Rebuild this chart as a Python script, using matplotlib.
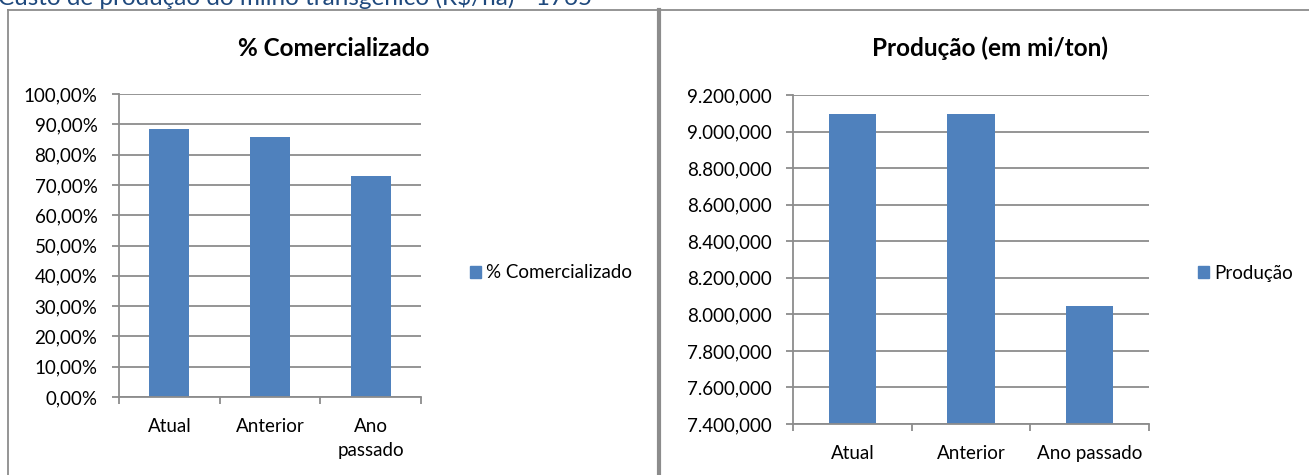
import matplotlib
matplotlib.use("Agg")
import matplotlib.pyplot as plt
from matplotlib.lines import Line2D
from matplotlib.patches import Patch
from matplotlib.ticker import FuncFormatter, FixedLocator

categories = ["Atual", "Anterior", "Ano passado"]
left_labels = ["Atual", "Anterior", "Ano\npassado"]
comercializado = [88.5, 85.7, 72.8]
producao = [9096000, 9096000, 8047000]

W, H = 1309, 475
BLUE = "#4F81BD"
GRID = "#8C8C8C"
FS = 13.5

plt.rcParams["font.family"] = ["Lato", "DejaVu Sans"]


def px_axes(fig, x0, x1, ytop, ybot):
    """Add an axes from pixel coordinates (origin top-left)."""
    return fig.add_axes([x0 / W, 1 - ybot / H, (x1 - x0) / W, (ybot - ytop) / H])


def excel_style(ax):
    for side in ["top", "right"]:
        ax.spines[side].set_visible(False)
    for side in ["left", "bottom"]:
        ax.spines[side].set_color(GRID)
        ax.spines[side].set_linewidth(1.3)
    ax.yaxis.grid(True, color=GRID, linewidth=1.3)
    ax.set_axisbelow(True)
    ax.tick_params(axis="y", length=5, width=1.3, color=GRID, pad=10.5, labelsize=FS)
    ax.tick_params(axis="x", which="major", length=0, pad=15, labelsize=FS)
    ax.xaxis.set_minor_locator(FixedLocator([-0.5, 0.5, 1.5, 2.5]))
    ax.tick_params(axis="x", which="minor", length=5, width=1.3, color=GRID)
    ax.set_xlim(-0.5, 2.5)


fig = plt.figure(figsize=(W / 100, H / 100), dpi=100)

# page heading (cut off at the top)
fig.text(-2 / W, 1 - 5 / H, "Custo de produção do milho transgênico (R$/ha) - 1765",
         color="#1F497D", fontsize=17.5, va="baseline", ha="left")

# chart borders
tf = fig.transFigure
fig.add_artist(Line2D([8 / W, 657 / W], [1 - 10 / H, 1 - 10 / H], color=GRID, lw=1.3, transform=tf))
fig.add_artist(Line2D([661 / W, 1], [1 - 10 / H, 1 - 10 / H], color=GRID, lw=1.3, transform=tf))
fig.add_artist(Line2D([8 / W, 8 / W], [0, 1 - 10 / H], color=GRID, lw=1.3, transform=tf))
fig.add_artist(Line2D([659 / W, 659 / W], [0, 1 - 10 / H], color=GRID, lw=3, transform=tf))

# left chart
ax1 = px_axes(fig, 119, 421, 94, 397)
excel_style(ax1)
ax1.bar(range(len(categories)), comercializado, width=0.4, color=BLUE)
ax1.set_ylim(0, 100)
ax1.set_yticks(range(0, 101, 10))
ax1.yaxis.set_major_formatter(FuncFormatter(lambda v, p: f"{v:.2f}%".replace(".", ",")))
ax1.set_xticks(range(len(categories)))
ax1.set_xticklabels(left_labels, linespacing=1.5)
fig.text(334 / W, 1 - 48 / H, "% Comercializado", fontsize=17.5, fontweight="bold",
         ha="center", va="center")
fig.legend(handles=[Patch(color=BLUE, label="% Comercializado")], loc="center left",
           bbox_to_anchor=(461 / W, 1 - 273 / H), frameon=False, borderpad=0,
           handlelength=0.57, handleheight=0.57, handletextpad=0.25, fontsize=FS)


def fmt_prod(v, p):
    v = int(round(v))
    return f"{v // 1000000}.{(v // 1000) % 1000:03d},{v % 1000:03d}"


# right chart
ax2 = px_axes(fig, 793, 1149, 95, 424)
excel_style(ax2)
ax2.bar(range(len(categories)), producao, width=0.4, color=BLUE)
ax2.set_ylim(7400000, 9200000)
ax2.set_yticks(range(7400000, 9200001, 200000))
ax2.yaxis.set_major_formatter(FuncFormatter(fmt_prod))
ax2.set_xticks(range(len(categories)))
ax2.set_xticklabels(categories)
fig.text(990 / W, 1 - 48 / H, "Produção (em mi/ton)", fontsize=17.5, fontweight="bold",
         ha="center", va="center")
fig.legend(handles=[Patch(color=BLUE, label="Produção")], loc="center left",
           bbox_to_anchor=(1189 / W, 1 - 273 / H), frameon=False, borderpad=0,
           handlelength=0.57, handleheight=0.57, handletextpad=0.25, fontsize=FS)

fig.savefig("out.png", dpi=100)
